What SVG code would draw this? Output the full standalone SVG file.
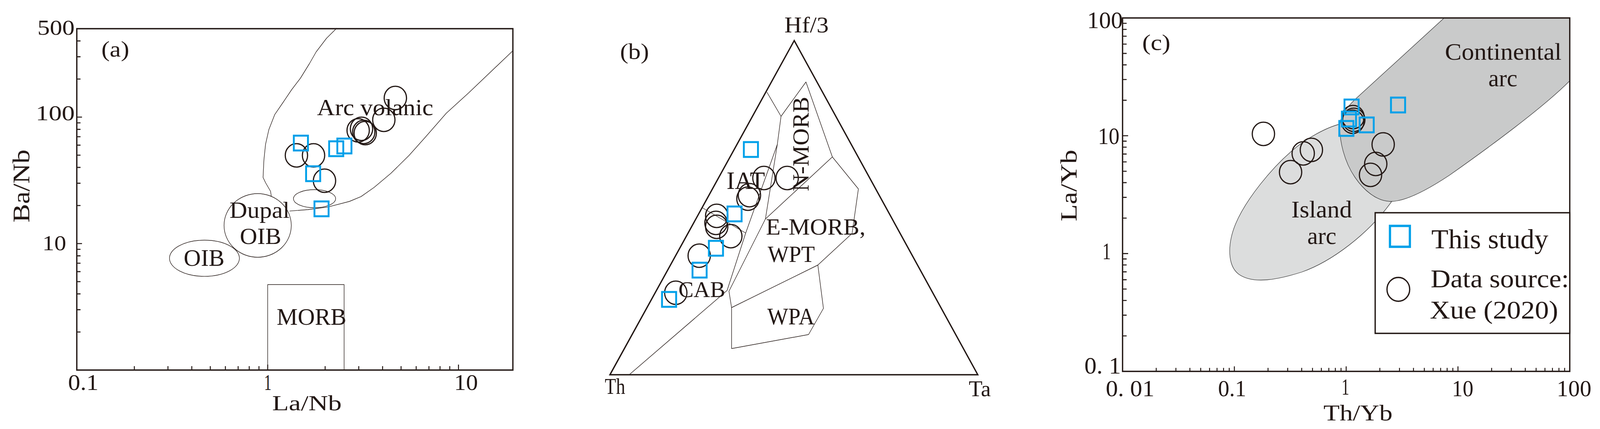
<svg xmlns="http://www.w3.org/2000/svg" width="4302" height="1099" viewBox="0 0 4302 1099" preserveAspectRatio="none">
<style>
:root{width:100vw;height:100vh}
.bg{fill:#ffffff}
.frame{fill:none;stroke:#231815;stroke-width:3.5}
.thin{fill:none;stroke:#231815;stroke-width:1.4;stroke-linejoin:round}
.tick{fill:none;stroke:#231815;stroke-width:2.6}
.c{fill:none;stroke:#231815;stroke-width:3.2}
.s{fill:none;stroke:#00a0e9;stroke-width:5}
.t{font-family:"Liberation Serif","Times New Roman",serif;fill:#231815}
.reg{stroke:#3c3c3c;stroke-width:1.3}
</style>
<defs>
<rect id="sq" x="-19" y="-19" width="38" height="38"/>
<circle id="ci" cx="0" cy="0" r="30"/>
</defs>
<rect class="bg" x="0" y="0" width="4302" height="1099"/>

<g id="panel-a">
  <g id="a-fields">
    <polyline class="thin" points="905.5,72 878,98 850,133 832,163 808,200 784,230 761,262.5 738.6,293.7 723,331.7 714,369.6 709.6,409.8 707.3,454.5 714,468 727.4,490 729.6,503.6"/>
    <polyline class="thin" points="778.75,540.6 827.9,537 881.4,530.4 939.5,516 970.7,503.6 1006,480 1051,444 1100,398 1145,350 1200,290 1260,238 1379,130"/>
    <ellipse class="thin" cx="845.7" cy="509" rx="56.7" ry="23.2"/>
    <ellipse class="thin" cx="692.8" cy="577.5" rx="90.4" ry="81.5"/>
    <ellipse class="thin" cx="549.7" cy="661.6" rx="94" ry="46.3"/>
    <polyline class="thin" points="719.8,948 719.8,729 925.2,729 925.2,948"/>
  </g>
  <g id="a-axes">
    <rect class="frame" x="206.5" y="73.5" width="1172.5" height="874.5"/>
    <path class="tick" d="M206.5,850.5h10M206.5,793.4h10M206.5,752.9h10M206.5,721.5h10M206.5,695.9h10M206.5,674.2h10M206.5,655.4h10M206.5,638.8h10M206.5,624h14M206.5,526.5h10M206.5,469.4h10M206.5,428.9h10M206.5,397.5h10M206.5,371.9h10M206.5,350.2h10M206.5,331.4h10M206.5,314.8h10M206.5,300h14M206.5,202.5h10M206.5,145.4h10M206.5,104.9h10"/>
    <path class="tick" d="M361.2,948v-10M451.6,948v-10M515.7,948v-10M565.4,948v-10M606,948v-10M640.3,948v-10M670.1,948v-10M696.3,948v-10M719.8,948v-14M874.2,948v-10M964.6,948v-10M1028.7,948v-10M1078.4,948v-10M1119,948v-10M1153.3,948v-10M1183.1,948v-10M1209.3,948v-10M1232.8,948v-14"/>
    <text class="t" x="100.6" y="89" font-size="54" textLength="100" lengthAdjust="spacingAndGlyphs">500</text>
    <text class="t" x="96" y="308" font-size="54" textLength="105" lengthAdjust="spacingAndGlyphs">100</text>
    <text class="t" x="114" y="641" font-size="54" textLength="64" lengthAdjust="spacingAndGlyphs">10</text>
    <text class="t" x="183" y="999" font-size="56" textLength="82" lengthAdjust="spacingAndGlyphs">0.1</text>
    <text class="t" x="710" y="999" font-size="56" textLength="20" lengthAdjust="spacingAndGlyphs">1</text>
    <text class="t" x="1221" y="999" font-size="56" textLength="64" lengthAdjust="spacingAndGlyphs">10</text>
    <text class="t" x="731.7" y="1051" font-size="55" textLength="187" lengthAdjust="spacingAndGlyphs">La/Nb</text>
    <text class="t" transform="translate(79,570) rotate(-90)" x="0" y="0" font-size="64" textLength="187" lengthAdjust="spacingAndGlyphs">Ba/Nb</text>
  </g>
  <g id="a-labels">
    <text class="t" x="272.5" y="145" font-size="58" textLength="75" lengthAdjust="spacingAndGlyphs">(a)</text>
    <text class="t" x="852.4" y="295" font-size="59" textLength="312.6" lengthAdjust="spacingAndGlyphs">Arc volanic</text>
    <text class="t" x="617" y="558" font-size="60" textLength="161.7" lengthAdjust="spacingAndGlyphs">Dupal</text>
    <text class="t" x="644.8" y="625" font-size="60" textLength="111.6" lengthAdjust="spacingAndGlyphs">OIB</text>
    <text class="t" x="494" y="681" font-size="62" textLength="109.7" lengthAdjust="spacingAndGlyphs">OIB</text>
    <text class="t" x="744" y="831.7" font-size="61" textLength="187.4" lengthAdjust="spacingAndGlyphs">MORB</text>
  </g>
  <g id="a-data">
    <use href="#ci" class="c" x="1063" y="251"/>
    <use href="#ci" class="c" x="1032" y="307"/>
    <use href="#ci" class="c" x="963" y="334"/>
    <use href="#ci" class="c" x="972" y="330"/>
    <use href="#ci" class="c" x="978" y="338"/>
    <use href="#ci" class="c" x="982" y="341"/>
    <use href="#ci" class="c" x="797" y="398"/>
    <use href="#ci" class="c" x="843" y="398"/>
    <use href="#ci" class="c" x="872.5" y="463"/>
    <use href="#sq" class="s" x="809" y="366.5"/>
    <use href="#sq" class="s" x="842" y="445"/>
    <use href="#sq" class="s" x="904" y="381"/>
    <use href="#sq" class="s" x="926" y="374"/>
    <use href="#sq" class="s" x="864.5" y="535"/>
  </g>
</g>

<g id="panel-b">
  <g id="b-fields">
    <polyline class="thin" points="2062,236 2100,298"/>
    <polyline class="thin" points="2100,298 2167,210 2238,402 2058,561"/>
    <polyline class="thin" points="2100,298 2090,370 2058,561"/>
    <polyline class="thin" points="2090,370 2005,597 1955,744 1932,763 1693,959"/>
    <polyline class="thin" points="1888,532 2005,597"/>
    <polyline class="thin" points="2058,561 1960,746 1967,788 1967,893"/>
    <polyline class="thin" points="2238,402 2308,484 2291,598 2199,679"/>
    <polyline class="thin" points="1967,788 2199,679 2214,790 2174,857 1967,893"/>
  </g>
  <polygon class="frame" points="1640,960 2135.5,104 2629,960"/>
  <g id="b-labels">
    <text class="t" x="2109" y="83" font-size="58" textLength="119" lengthAdjust="spacingAndGlyphs">Hf/3</text>
    <text class="t" x="1667" y="151" font-size="58" textLength="78" lengthAdjust="spacingAndGlyphs">(b)</text>
    <text class="t" x="1626" y="1009" font-size="58" textLength="55" lengthAdjust="spacingAndGlyphs">Th</text>
    <text class="t" x="2604.6" y="1015" font-size="58" textLength="59.4" lengthAdjust="spacingAndGlyphs">Ta</text>
    <text class="t" x="1953.6" y="484.5" font-size="63" textLength="103.4" lengthAdjust="spacingAndGlyphs">IAT</text>
    <text class="t" transform="translate(2174,490) rotate(-90)" x="0" y="0" font-size="63" textLength="242" lengthAdjust="spacingAndGlyphs">N-MORB</text>
    <text class="t" x="2059.4" y="601" font-size="59" textLength="267.6" lengthAdjust="spacingAndGlyphs">E-MORB,</text>
    <text class="t" x="2064" y="671" font-size="60" textLength="127" lengthAdjust="spacingAndGlyphs">WPT</text>
    <text class="t" x="2063" y="831" font-size="62" textLength="127" lengthAdjust="spacingAndGlyphs">WPA</text>
    <text class="t" x="1824" y="761" font-size="58" textLength="126" lengthAdjust="spacingAndGlyphs">CAB</text>
  </g>
  <g id="b-data">
    <use href="#ci" class="c" x="2054" y="456"/>
    <use href="#ci" class="c" x="2116.5" y="456"/>
    <use href="#ci" class="c" x="2015" y="500"/>
    <use href="#ci" class="c" x="2011" y="509"/>
    <use href="#ci" class="c" x="1927" y="553"/>
    <use href="#ci" class="c" x="1925" y="571"/>
    <use href="#ci" class="c" x="1927" y="581"/>
    <use href="#ci" class="c" x="1965" y="605"/>
    <use href="#ci" class="c" x="1880" y="655"/>
    <use href="#ci" class="c" x="1817" y="750"/>
    <use href="#sq" class="s" x="2019" y="383"/>
    <use href="#sq" class="s" x="1975" y="548"/>
    <use href="#sq" class="s" x="1925" y="636"/>
    <use href="#sq" class="s" x="1881" y="692"/>
    <use href="#sq" class="s" x="1799" y="767"/>
  </g>
</g>

<g id="panel-c">
  <g id="c-fields">
    <path id="island-arc" class="reg" fill="#dcdddd" d="M3603,318 C3570,325 3510,355 3473,387 C3420,430 3350,510 3322,574 C3300,625 3300,680 3330,702 C3370,730 3440,715 3500,697 C3580,670 3680,600 3745,512 L3680,420 L3620,330 Z"/>
    <path id="continental-arc" class="reg" fill="#c9caca" d="M3883,46 L4220.7,46 L4220.7,207 C4150,275 4000,380 3897,449 C3840,485 3780,516 3740,516 C3700,516 3665,485 3643,454 C3615,415 3600,360 3603,318 C3606,290 3625,272 3643,255 Z"/>
  </g>
  <g id="c-axes">
    <rect class="frame" x="3018.3" y="46" width="1202.4" height="905.4"/>
    <path class="tick" d="M3018.3,860.5h11M3018.3,807.4h11M3018.3,769.7h11M3018.3,740.5h11M3018.3,716.6h11M3018.3,696.4h11M3018.3,678.8h11M3018.3,663.4h11M3018.3,649.6h15M3018.3,558.7h11M3018.3,505.6h11M3018.3,467.9h11M3018.3,438.7h11M3018.3,414.8h11M3018.3,394.6h11M3018.3,377h11M3018.3,361.6h11M3018.3,347.8h15M3018.3,256.9h11M3018.3,203.8h11M3018.3,166.1h11M3018.3,136.9h11M3018.3,113h11M3018.3,92.8h11M3018.3,75.2h11M3018.3,59.8h11"/>
    <path class="tick" d="M3108.8,951.4v-9M3161.7,951.4v-9M3199.3,951.4v-9M3228.4,951.4v-9M3252.2,951.4v-9M3272.3,951.4v-9M3289.8,951.4v-9M3305.1,951.4v-9M3318.9,951.4v-13M3409.4,951.4v-9M3462.3,951.4v-9M3499.9,951.4v-9M3529,951.4v-9M3552.8,951.4v-9M3572.9,951.4v-9M3590.4,951.4v-9M3605.7,951.4v-9M3619.5,951.4v-13M3710,951.4v-9M3762.9,951.4v-9M3800.5,951.4v-9M3829.6,951.4v-9M3853.4,951.4v-9M3873.5,951.4v-9M3891,951.4v-9M3906.3,951.4v-9M3920.1,951.4v-13M4010.6,951.4v-9M4063.5,951.4v-9M4101.1,951.4v-9M4130.2,951.4v-9M4154,951.4v-9M4174.1,951.4v-9M4191.6,951.4v-9M4206.9,951.4v-9"/>
    <text class="t" x="2923" y="72" font-size="61" textLength="96" lengthAdjust="spacingAndGlyphs">100</text>
    <text class="t" x="2952" y="369" font-size="61" textLength="58" lengthAdjust="spacingAndGlyphs">10</text>
    <text class="t" x="2964" y="664" font-size="61" textLength="23" lengthAdjust="spacingAndGlyphs">1</text>
    <text class="t" x="2915.6" y="957" font-size="61" textLength="98.4" lengthAdjust="spacingAndGlyphs">0. 1</text>
    <text class="t" x="2973" y="1015" font-size="60" textLength="131" lengthAdjust="spacingAndGlyphs">0. 01</text>
    <text class="t" x="3275" y="1015" font-size="60" textLength="76" lengthAdjust="spacingAndGlyphs">0.1</text>
    <text class="t" x="3607" y="1011" font-size="60" textLength="21" lengthAdjust="spacingAndGlyphs">1</text>
    <text class="t" x="3904" y="1015" font-size="60" textLength="57.6" lengthAdjust="spacingAndGlyphs">10</text>
    <text class="t" x="4185.8" y="1015" font-size="60" textLength="93" lengthAdjust="spacingAndGlyphs">100</text>
    <text class="t" x="3558.5" y="1077" font-size="58" textLength="185.5" lengthAdjust="spacingAndGlyphs">Th/Yb</text>
    <text class="t" transform="translate(2895,567) rotate(-90)" x="0" y="0" font-size="63" textLength="183.5" lengthAdjust="spacingAndGlyphs">La/Yb</text>
  </g>
  <g id="c-labels">
    <text class="t" x="3071" y="128" font-size="58" textLength="76" lengthAdjust="spacingAndGlyphs">(c)</text>
    <text class="t" x="3885" y="153" font-size="61" textLength="313.7" lengthAdjust="spacingAndGlyphs">Continental</text>
    <text class="t" x="4002" y="221" font-size="61" textLength="78" lengthAdjust="spacingAndGlyphs">arc</text>
    <text class="t" x="3472" y="557" font-size="61" textLength="163" lengthAdjust="spacingAndGlyphs">Island</text>
    <text class="t" x="3515" y="625.4" font-size="61" textLength="78" lengthAdjust="spacingAndGlyphs">arc</text>
  </g>
  <g id="c-data">
    <use href="#ci" class="c" x="3397" y="343"/>
    <use href="#ci" class="c" x="3470" y="441"/>
    <use href="#ci" class="c" x="3504" y="393"/>
    <use href="#ci" class="c" x="3526" y="384"/>
    <use href="#ci" class="c" x="3638" y="300"/>
    <use href="#ci" class="c" x="3640" y="307"/>
    <use href="#ci" class="c" x="3637" y="312"/>
    <use href="#ci" class="c" x="3719" y="370"/>
    <use href="#ci" class="c" x="3699" y="420"/>
    <use href="#ci" class="c" x="3685" y="448"/>
    <use href="#sq" class="s" x="3634" y="274"/>
    <use href="#sq" class="s" x="3759" y="269"/>
    <use href="#sq" class="s" x="3627" y="305"/>
    <use href="#sq" class="s" x="3620" y="329"/>
    <use href="#sq" class="s" x="3674.6" y="320"/>
  </g>
  <g id="legend">
    <rect x="3697.5" y="545" width="523.2" height="309" fill="#ffffff" stroke="#231815" stroke-width="3.5"/>
    <rect x="3737.3" y="578.7" width="53.5" height="53.5" fill="none" stroke="#00a0e9" stroke-width="6"/>
    <circle cx="3759.8" cy="741.2" r="30.5" fill="none" stroke="#231815" stroke-width="3.4"/>
    <text class="t" x="3848.6" y="636.4" font-size="70" textLength="314.4" lengthAdjust="spacingAndGlyphs">This study</text>
    <text class="t" x="3846.6" y="736.4" font-size="66" textLength="372" lengthAdjust="spacingAndGlyphs">Data source:</text>
    <text class="t" x="3844.6" y="815.7" font-size="66" textLength="345" lengthAdjust="spacingAndGlyphs">Xue (2020)</text>
  </g>
</g>
</svg>
